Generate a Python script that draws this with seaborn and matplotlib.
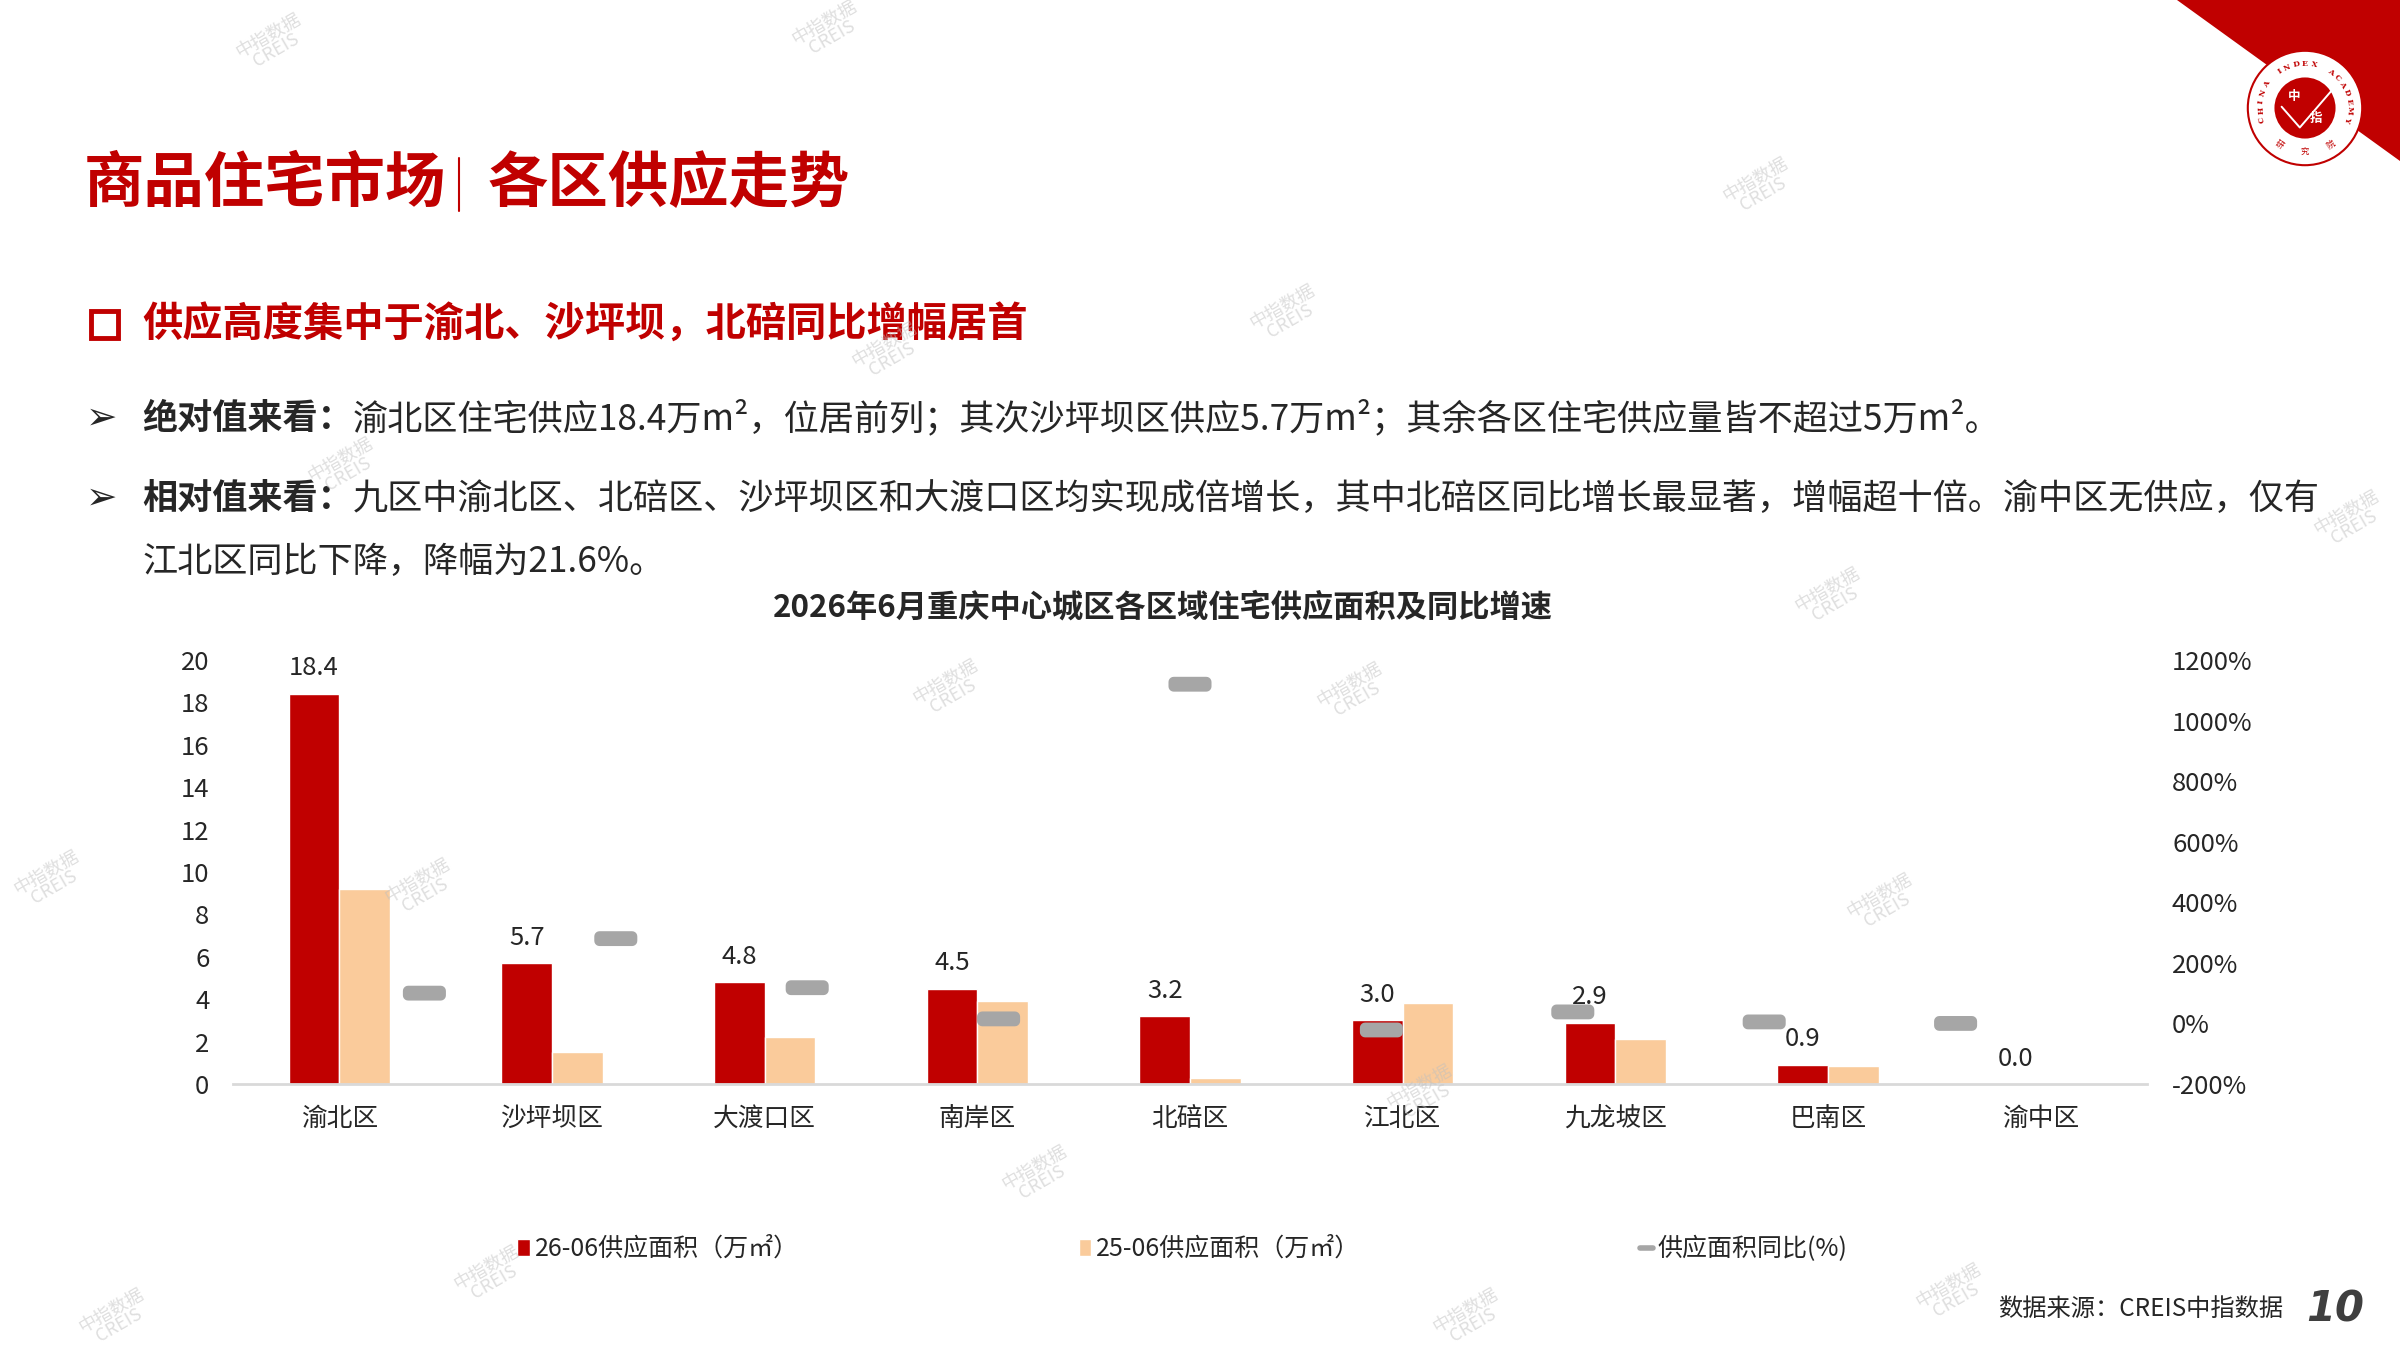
import numpy as np
import pandas as pd
import seaborn as sns
import matplotlib.pyplot as plt
from matplotlib.path import Path
from matplotlib.patches import Patch, Polygon, Rectangle, Circle
from matplotlib.lines import Line2D

# Chart data
districts = ['渝北区', '沙坪坝区', '大渡口区', '南岸区', '北碚区', '江北区', '九龙坡区', '巴南区', '渝中区']
supply_2606 = [18.4, 5.7, 4.8, 4.5, 3.2, 3.0, 2.9, 0.9, 0.0]
supply_2506 = [9.2, 1.5, 2.2, 3.9, 0.26, 3.83, 2.1, 0.85, 0.0]
yoy_pct = [100, 280, 118, 15, 1120, -21.6, 38, 5, 0]
left_ticks = list(range(0, 21, 2))
right_ticks = list(range(-200, 1201, 200))
series_names = ['26-06供应面积（万㎡）', '25-06供应面积（万㎡）', '供应面积同比(%)']

RED = '#C00000'
PEACH = '#FACB9B'
GRAY = '#A6A6A6'

W, H = 2400, 1350


def fx(x):
    return x / W


def fy(y):
    return 1 - y / H


sns.set_style('white')
plt.rcParams['font.family'] = ['Noto Sans CJK SC', 'DejaVu Sans']

fig = plt.figure(figsize=(24, 13.5), dpi=100)
fig.patch.set_facecolor('white')

# ---- header ----
fig.text(fx(84), fy(184), '商品住宅市场', color=RED, fontsize=43.5, fontweight='bold', va='center')
fig.add_artist(Line2D([fx(459), fx(459)], [fy(158), fy(211)], color=RED, lw=1.5, transform=fig.transFigure))
fig.text(fx(488), fy(184), '各区供应走势', color=RED, fontsize=43.5, fontweight='bold', va='center')

fig.add_artist(Rectangle((fx(91), fy(338)), fx(118) - fx(91), (338 - 311) / H, fill=False,
                         ec=RED, lw=3.5, transform=fig.transFigure))
fig.text(fx(142), fy(325), '供应高度集中于渝北、沙坪坝，北碚同比增幅居首', color=RED, fontsize=29,
         fontweight='bold', va='center')

renderer = fig.canvas.get_renderer()
bullets = [
    (419, '绝对值来看：', '渝北区住宅供应18.4万m²，位居前列；其次沙坪坝区供应5.7万m²；其余各区住宅供应量皆不超过5万m²。'),
    (499, '相对值来看：', '九区中渝北区、北碚区、沙坪坝区和大渡口区均实现成倍增长，其中北碚区同比增长最显著，增幅超十倍。渝中区无供应，仅有'),
]
for y, head, body in bullets:
    fig.text(fx(86), fy(y), '➢', fontsize=27, va='center', family=['DejaVu Sans'])
    t = fig.text(fx(142), fy(y), head, fontsize=25.3, fontweight='bold', va='center')
    bb = t.get_window_extent(renderer)
    fig.text(bb.x1 / W, fy(y), body, fontsize=25.3, va='center')
fig.text(fx(142), fy(562), '江北区同比下降，降幅为21.6%。', fontsize=25.3, va='center')

fig.text(fx(1163), fy(608), '2026年6月重庆中心城区各区域住宅供应面积及同比增速', fontsize=22.5,
         fontweight='bold', ha='center', va='center')

# ---- bars ----
ax = fig.add_axes([fx(233), fy(1084), (2147 - 233) / W, (1084 - 660) / H])
df = pd.DataFrame({
    '区域': districts * 2,
    '供应面积': supply_2606 + supply_2506,
    '期间': [series_names[0]] * len(districts) + [series_names[1]] * len(districts),
})
sns.barplot(data=df, x='区域', y='供应面积', hue='期间', order=districts, hue_order=series_names[:2],
            palette=[RED, PEACH], saturation=1, width=0.475, gap=0, errorbar=None, legend=False, ax=ax)
ax.set_xlim(-0.5, 8.5)
ax.set_ylim(0, 20)
ax.set_yticks(left_ticks)
ax.set_xlabel('')
ax.set_ylabel('')
sns.despine(ax=ax, left=True)
ax.spines['bottom'].set_color('#D9D9D9')
ax.spines['bottom'].set_linewidth(2)
ax.tick_params(axis='y', length=0, labelsize=18.5, pad=17)
ax.tick_params(axis='x', length=0, labelsize=18.5, pad=16)
ax.bar_label(ax.containers[0], fmt='%.1f', padding=9, fontsize=18.5)

# ---- yoy markers on a secondary category axis ----
t = np.linspace(0, np.pi / 2, 6)
r, hw, hh = 0.35, 1.45, 0.5
corners = [(hw - r, hh - r, 0), (-hw + r, hh - r, np.pi / 2), (-hw + r, -hh + r, np.pi), (hw - r, -hh + r, 1.5 * np.pi)]
verts = np.vstack([np.column_stack([cx + r * np.cos(t + a), cy + r * np.sin(t + a)]) for cx, cy, a in corners])
dash = Path(np.vstack([verts, verts[:1]]), closed=True)

ax2 = fig.add_axes(ax.get_position(), facecolor='none')
sns.scatterplot(x=districts, y=yoy_pct, marker=dash, s=960, color=GRAY, edgecolor='none', linewidth=0,
                ax=ax2, zorder=5)
ax2.set_xlim(-1, 9)
ax2.set_ylim(-200, 1200)
ax2.xaxis.set_visible(False)
ax2.yaxis.tick_right()
ax2.set_yticks(right_ticks)
ax2.set_yticklabels([f'{v}%' for v in right_ticks])
ax2.tick_params(axis='y', length=0, labelsize=18.5, pad=18)
for s in ax2.spines.values():
    s.set_visible(False)

# ---- legend ----
handles = [Patch(facecolor=RED), Patch(facecolor=PEACH),
           Line2D([0], [0], color=GRAY, lw=4, solid_capstyle='round')]
fig.legend(handles, series_names, loc='center left', bbox_to_anchor=(fx(517), fy(1249)), ncol=3,
           frameon=False, fontsize=18, handlelength=0.5, handleheight=0.65, handletextpad=0.2,
           columnspacing=11.2, borderaxespad=0, borderpad=0)

# ---- footer ----
fig.text(fx(2283), fy(1309), '数据来源：CREIS中指数据', fontsize=17.5, ha='right', va='center')
fig.text(fx(2306), fy(1309), '10', fontsize=30, fontweight='bold', style='italic', color='#3F3F3F',
         va='center', family=['DejaVu Sans'])

# ---- corner logo ----
fig.add_artist(Polygon([(fx(2177), 1), (1, 1), (1, fy(161))], closed=True, fc=RED, ec='none',
                       transform=fig.transFigure, zorder=0))
lax = fig.add_axes([fx(2240), fy(173), 130 / W, 130 / H])
lax.set_xlim(-1, 1)
lax.set_ylim(-1, 1)
lax.axis('off')
lax.add_patch(Circle((0, 0), 0.88, fc='white', ec=RED, lw=1.5))
lax.add_patch(Circle((0, 0), 0.47, fc=RED, ec='none'))
lax.plot([-0.36, -0.08, 0.42], [0.02, -0.3, 0.28], color='white', lw=1.4)
lax.text(-0.17, 0.17, '中', color='white', fontsize=9, fontweight='bold', ha='center', va='center')
lax.text(0.17, -0.16, '指', color='white', fontsize=9, fontweight='bold', ha='center', va='center')
arc = 'CHINA INDEX ACADEMY'
for ch, ang in zip(arc, np.linspace(195, -15, len(arc))):
    a = np.radians(ang)
    lax.text(0.68 * np.cos(a), 0.68 * np.sin(a), ch, color=RED, fontsize=5.5, fontweight='bold',
             family=['DejaVu Serif'], rotation=ang - 90, ha='center', va='center')
for ch, ang in zip('研究院', [235, 270, 305]):
    a = np.radians(ang)
    lax.text(0.68 * np.cos(a), 0.68 * np.sin(a), ch, color=RED, fontsize=6, rotation=ang + 90,
             ha='center', va='center')

# ---- watermarks ----
marks = [(272, 43), (828, 30), (1759, 187), (1286, 314), (888, 352), (344, 467), (50, 880),
         (421, 888), (949, 689), (1353, 692), (1831, 597), (1883, 903), (2350, 520), (1423, 1094),
         (1038, 1175), (490, 1275), (115, 1318), (1469, 1318), (1952, 1293)]
for x, y in marks:
    fig.text(fx(x), fy(y), '中指数据\nCREIS', fontsize=13, color='#BFBFBF', alpha=0.5, rotation=30,
             ha='center', va='center', linespacing=0.9, zorder=10)

fig.savefig('out.png', dpi=100, facecolor='white')
